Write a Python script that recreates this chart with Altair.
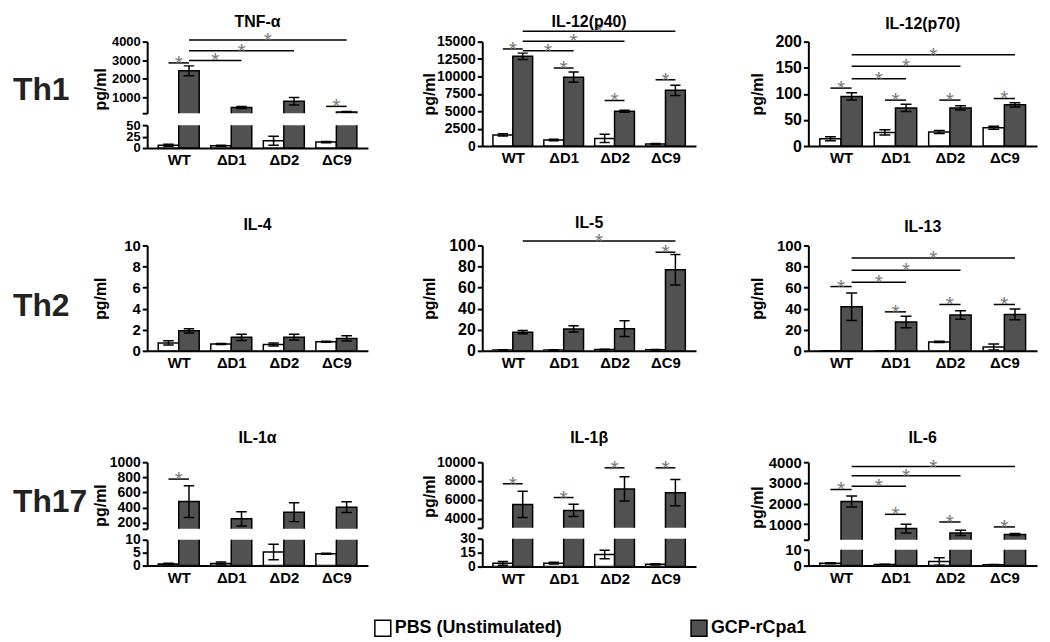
import json
import altair as alt
import pandas as pd

FONT = "Liberation Sans"
DARK = "#515151"
STAR = "#7a7a7a"

CATS = ["WT", "ΔD1", "ΔD2", "ΔC9"]
SERIES = ["PBS (Unstimulated)", "GCP-rCpa1"]
ROWS = ["Th1", "Th2", "Th17"]

# ---- values (PBS, GCP-rCpa1) with error (SEM) ----
TNF_PBS = [6, 5, 16, 13]
TNF_PBS_ERR = [2, 1, 10, 1.5]
TNF_GCP = [2420, 440, 780, 200]
TNF_GCP_ERR = [270, 60, 200, 30]
TNF_SIG = [("WT", "P", "WT", "G", 2850), ("WT", "G", "ΔD1", "G", 2980),
           ("WT", "G", "ΔD2", "G", 3510), ("WT", "G", "ΔC9", "G", 4090),
           ("ΔC9", "P", "ΔC9", "G", 500)]

P40_PBS = [1600, 870, 1100, 290]
P40_PBS_ERR = [150, 100, 600, 80]
P40_GCP = [12900, 9900, 5000, 8000]
P40_GCP_ERR = [450, 750, 150, 750]
P40_SIG = [("WT", "P", "WT", "G", 13950), ("WT", "G", "ΔD1", "G", 13700),
           ("WT", "G", "ΔD2", "G", 15050), ("WT", "G", "ΔC9", "G", 16490),
           ("ΔD1", "P", "ΔD1", "G", 11210), ("ΔD2", "P", "ΔD2", "G", 6540),
           ("ΔC9", "P", "ΔC9", "G", 9520)]

P70_PBS = [14, 26, 27, 35]
P70_PBS_ERR = [4, 5, 3, 3]
P70_GCP = [95, 73, 73, 79]
P70_GCP_ERR = [7, 7, 4, 4]
P70_SIG = [("WT", "P", "WT", "G", 111), ("WT", "G", "ΔD1", "G", 129),
           ("WT", "G", "ΔD2", "G", 153), ("WT", "G", "ΔC9", "G", 175),
           ("ΔD1", "P", "ΔD1", "G", 88), ("ΔD2", "P", "ΔD2", "G", 88),
           ("ΔC9", "P", "ΔC9", "G", 91)]

IL4_PBS = [0.75, 0.65, 0.6, 0.87]
IL4_PBS_ERR = [0.2, 0.05, 0.15, 0.05]
IL4_GCP = [1.9, 1.28, 1.3, 1.18]
IL4_GCP_ERR = [0.2, 0.3, 0.27, 0.25]
IL4_SIG = []

IL5_PBS = [0.8, 0.8, 1.2, 1.0]
IL5_PBS_ERR = [0.2, 0.2, 0.3, 0.2]
IL5_GCP = [17.7, 20.8, 21, 77]
IL5_GCP_ERR = [1.5, 3, 7.5, 14.5]
IL5_SIG = [("WT", "G", "ΔC9", "G", 104.3), ("ΔC9", "P", "ΔC9", "G", 93.6)]

IL13_PBS = [0, 0, 8.5, 3.6]
IL13_PBS_ERR = [0, 0, 0.5, 2.8]
IL13_GCP = [41.8, 27.4, 34, 34.6]
IL13_GCP_ERR = [13, 5.5, 4, 5]
IL13_SIG = [("WT", "P", "WT", "G", 61), ("WT", "G", "ΔD1", "G", 65),
            ("WT", "G", "ΔD2", "G", 76.5), ("WT", "G", "ΔC9", "G", 88),
            ("ΔD1", "P", "ΔD1", "G", 37), ("ΔD2", "P", "ΔD2", "G", 44),
            ("ΔC9", "P", "ΔC9", "G", 44)]

IL1A_PBS = [0.6, 0.8, 5.3, 4.6]
IL1A_PBS_ERR = [0.3, 0.6, 3, 0.2]
IL1A_GCP = [480, 252, 340, 406]
IL1A_GCP_ERR = [210, 95, 125, 70]
IL1A_SIG = [("WT", "P", "WT", "G", 777)]

IL1B_PBS = [3.5, 3.7, 13, 2.5]
IL1B_PBS_ERR = [2, 1, 4.5, 0.7]
IL1B_GCP = [5500, 4860, 7150, 6750]
IL1B_GCP_ERR = [1400, 650, 1300, 1400]
IL1B_SIG = [("WT", "P", "WT", "G", 7700), ("ΔD1", "P", "ΔD1", "G", 6230),
            ("ΔD2", "P", "ΔD2", "G", 9400), ("ΔC9", "P", "ΔC9", "G", 9400)]

IL6_PBS = [1.5, 0.7, 2.6, 0.6]
IL6_PBS_ERR = [0.3, 0.1, 2.3, 0.1]
IL6_GCP = [2100, 790, 580, 505]
IL6_GCP_ERR = [270, 210, 130, 50]
IL6_SIG = [("WT", "P", "WT", "G", 2680), ("WT", "G", "ΔD1", "G", 2840),
           ("WT", "G", "ΔD2", "G", 3350), ("WT", "G", "ΔC9", "G", 3790),
           ("ΔD1", "P", "ΔD1", "G", 1480), ("ΔD2", "P", "ΔD2", "G", 1110),
           ("ΔC9", "P", "ΔC9", "G", 870)]

CATS_JS = json.dumps(CATS, ensure_ascii=False)
XS = alt.Scale(domain=[-0.6, 3.6], nice=False, zero=False)

# y-axis extents per column (keeps plot areas aligned between rows)
EXT = [37, 45, 41]
TPAD = [2, 0, 2]

# one shared legend (identical definition in every bar layer so it merges)
LEGEND = alt.Legend(orient="none", legendX=363, legendY=581, direction="horizontal",
                    title=None, symbolType="square", symbolSize=256, padding=0,
                    symbolStrokeColor="black", symbolStrokeWidth=1.5,
                    labelFont=FONT, labelFontSize=18, labelFontWeight="bold",
                    labelColor="black", labelLimit=400, columnPadding=126, labelOffset=3)


def bar_df(pbs, pbs_e, gcp, gcp_e):
    return pd.DataFrame({
        "cat": CATS * 2,
        "series": [SERIES[0]] * 4 + [SERIES[1]] * 4,
        "value": list(pbs) + list(gcp),
        "err": list(pbs_e) + list(gcp_e),
    })


def y_axis(values, fs, col, title=None, blank=None, title_y=None):
    kw = dict(values=values, format="d", grid=False, domainColor="black", domainWidth=2,
              tickColor="black", tickWidth=2, tickSize=5, labelFont=FONT, labelFontSize=fs,
              labelFontWeight="bold", labelColor="black", labelPadding=2,
              labelOverlap=False, minExtent=EXT[col], maxExtent=EXT[col])
    if title:
        kw.update(title=title, titleFont=FONT, titleFontSize=16, titleFontWeight="bold",
                  titleColor="black", titlePadding=TPAD[col])
    else:
        kw["title"] = None
    if blank is not None:
        kw["labelExpr"] = f"datum.value == {blank} ? '' : datum.label"
    if title_y is not None:
        kw["titleY"] = title_y
    return alt.Axis(**kw)


X_AXIS = alt.Axis(values=[0, 1, 2, 3], labelExpr=f"{CATS_JS}[datum.value]", title=None,
                  grid=False, ticks=False, domainColor="black", domainWidth=2,
                  labelFont=FONT, labelFontSize=15, labelFontWeight="bold",
                  labelColor="black", labelPadding=5, labelOverlap=False, labelFlush=False)


def section(df, sig, ydom, yax, xax, w, h, title=None, toff=0):
    ys = alt.Scale(domain=ydom, nice=False, zero=False)

    def X(f):
        return alt.X(f, scale=XS, axis=xax)

    def Y(f):
        return alt.Y(f, scale=ys, axis=yax)

    base = alt.Chart(df).transform_calculate(
        xc=f"indexof({CATS_JS}, datum.cat) + (datum.series == '{SERIES[1]}' ? 0.195 : -0.195)"
    ).transform_calculate(
        xl="datum.xc - 0.195", xr="datum.xc + 0.195",
        lo="datum.value - datum.err", hi="datum.value + datum.err",
        cl="datum.xc - 0.1", cr="datum.xc + 0.1", zero="0")
    bars = base.mark_bar(stroke="black", strokeWidth=1.5, clip=True).encode(
        x=X("xl:Q"), x2="xr:Q", y=Y("value:Q"), y2="zero:Q",
        fill=alt.Fill("series:N", scale=alt.Scale(domain=SERIES, range=["#ffffff", DARK]),
                      legend=LEGEND))
    rk = dict(color="black", strokeWidth=1.5, clip=True)
    err = base.mark_rule(**rk).encode(x=X("xc:Q"), y=Y("lo:Q"), y2="hi:Q")
    cap_hi = base.mark_rule(**rk).encode(x=X("cl:Q"), x2="cr:Q", y=Y("hi:Q"))
    cap_lo = base.mark_rule(**rk).encode(x=X("cl:Q"), x2="cr:Q", y=Y("lo:Q"))
    layers = [bars, err, cap_hi, cap_lo]
    if sig:
        s = alt.Chart(pd.DataFrame(sig, columns=["c1", "s1", "c2", "s2", "y"])).transform_calculate(
            xa=f"indexof({CATS_JS}, datum.c1) + (datum.s1 == 'G' ? 0.195 : -0.195)",
            xb=f"indexof({CATS_JS}, datum.c2) + (datum.s2 == 'G' ? 0.195 : -0.195)"
        ).transform_calculate(xm="(datum.xa + datum.xb) / 2")
        lines = s.mark_rule(color="black", strokeWidth=1.5).encode(
            x=X("xa:Q"), x2="xb:Q", y=Y("y:Q"))
        stars = s.mark_text(text="*", font=FONT, fontSize=21, color=STAR,
                            baseline="alphabetic", dy=7).encode(x=X("xm:Q"), y=Y("y:Q"))
        layers += [lines, stars]
    if title is not None:
        ttl = alt.Chart(pd.DataFrame({"t": [title]})).mark_text(
            font=FONT, fontSize=16, fontWeight="bold", color="black", align="center",
            baseline="alphabetic").encode(text="t:N", x=alt.value(w / 2), y=alt.value(-toff))
        layers.append(ttl)
    return alt.layer(*layers).properties(width=w, height=h)


def simple_panel(name, toff, pbs, pe, gcp, ge, sig, dom, ticks, fs, w, h, col):
    df = bar_df(pbs, pe, gcp, ge)
    return section(df, sig, dom, y_axis(ticks, fs, col, title="pg/ml"), X_AXIS, w, h,
                   title=name, toff=toff)


def broken_panel(name, toff, pbs, pe, gcp, ge, sig, up_dom, up_ticks, lo_dom, lo_ticks,
                 fs, w, hu, hl, gap, title_y, col):
    df = bar_df(pbs, pe, gcp, ge)
    upper = section(df, sig, up_dom,
                    y_axis([up_dom[0]] + up_ticks, fs, col, title="pg/ml", blank=up_dom[0],
                           title_y=title_y),
                    None, w, hu, title=name, toff=toff)
    lower = section(df, [], lo_dom, y_axis(lo_ticks, fs, col), X_AXIS, w, hl)
    # label overhang of the two sections (~one label height) is part of the layout bounds
    return alt.vconcat(upper, lower, spacing=gap - fs)


def row_label(text, y):
    return alt.Chart(pd.DataFrame({"t": [text]})).mark_text(
        align="left", baseline="alphabetic", font=FONT, fontSize=32, fontWeight="bold",
        color="#222222").encode(text="t:N", x=alt.value(0), y=alt.value(y)).properties(
        width=76, height=60)


W1, W2, W3 = 222, 215, 230

tnf = broken_panel("TNF-α", 15, TNF_PBS, TNF_PBS_ERR, TNF_GCP, TNF_GCP_ERR, TNF_SIG,
                   [130, 4000], [1000, 2000, 3000, 4000], [0, 50], [0, 25, 50],
                   13, W1, 72, 23, 12, 47.5, 0)
p40 = simple_panel("IL-12(p40)", 15, P40_PBS, P40_PBS_ERR, P40_GCP, P40_GCP_ERR, P40_SIG,
                   [0, 15000], [0, 2500, 5000, 7500, 10000, 12500, 15000], 14, W2, 105, 1)
p70 = simple_panel("IL-12(p70)", 13, P70_PBS, P70_PBS_ERR, P70_GCP, P70_GCP_ERR, P70_SIG,
                   [0, 200], [0, 50, 100, 150, 200], 16, W3, 105, 2)

il4 = simple_panel("IL-4", 16, IL4_PBS, IL4_PBS_ERR, IL4_GCP, IL4_GCP_ERR, IL4_SIG,
                   [0, 10], [0, 2, 4, 6, 8, 10], 15, W1, 106, 0)
il5 = simple_panel("IL-5", 18, IL5_PBS, IL5_PBS_ERR, IL5_GCP, IL5_GCP_ERR, IL5_SIG,
                   [0, 100], [0, 20, 40, 60, 80, 100], 16, W2, 106, 1)
il13 = simple_panel("IL-13", 14, IL13_PBS, IL13_PBS_ERR, IL13_GCP, IL13_GCP_ERR, IL13_SIG,
                    [0, 100], [0, 20, 40, 60, 80, 100], 15, W3, 106, 2)

il1a = broken_panel("IL-1α", 19, IL1A_PBS, IL1A_PBS_ERR, IL1A_GCP, IL1A_GCP_ERR, IL1A_SIG,
                    [120, 1000], [200, 400, 600, 800, 1000], [0, 10], [0, 5, 10],
                    14, W1, 67, 26, 11, 43, 0)
il1b = broken_panel("IL-1β", 19, IL1B_PBS, IL1B_PBS_ERR, IL1B_GCP, IL1B_GCP_ERR, IL1B_SIG,
                    [3000, 10000], [4000, 6000, 8000, 10000], [0, 30], [0, 15, 30],
                    14, W2, 66, 28, 11, 34, 1)
il6 = broken_panel("IL-6", 19, IL6_PBS, IL6_PBS_ERR, IL6_GCP, IL6_GCP_ERR, IL6_SIG,
                   [250, 4000], [1000, 2000, 3000, 4000], [0, 10], [0, 10],
                   15, W3, 78, 16, 10, 45, 2)


def row(label, y, a, b, c):
    inner = alt.hconcat(a, b, c, spacing=54)
    return alt.hconcat(row_label(label, y), inner, spacing=4)


row1 = row(ROWS[0], 59, tnf, p40, p70)
row2 = row(ROWS[1], 71, il4, il5, il13)
row3 = row(ROWS[2], 50, il1a, il1b, il6)

top = alt.vconcat(row1, row2, spacing=47)
chart = alt.vconcat(top, row3, spacing=60).properties(
    padding={"left": 5, "top": 4, "right": 5, "bottom": 0}
).configure_view(stroke=None)

chart.save("out.html", embed_options={"renderer": "svg", "actions": False})
